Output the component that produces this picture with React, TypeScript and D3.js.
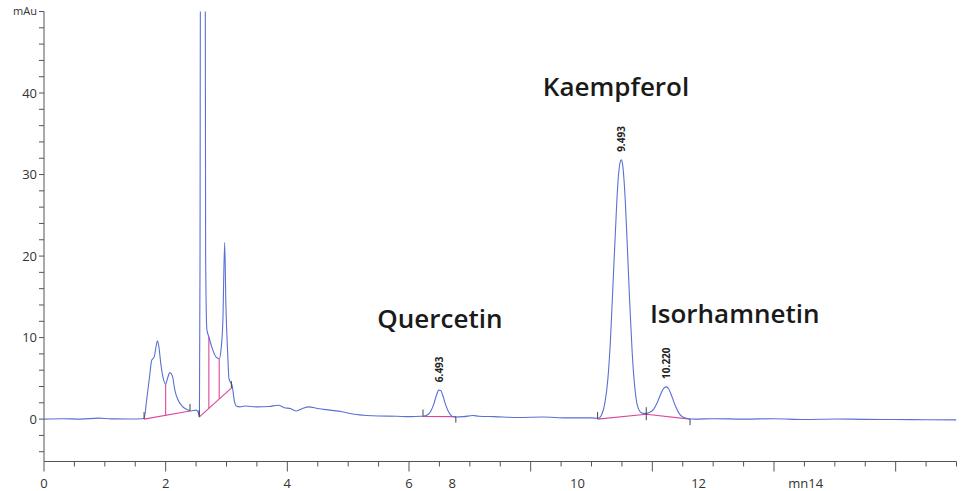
import React from "react";
import * as d3 from "d3";

// Chromatogram trace: retention time (min) and absorbance (mAu)
const traceTime = [
  0, 0.3, 0.6, 0.9, 1.1, 1.4, 1.62,
  1.645, 1.69, 1.74, 1.77, 1.81, 1.84, 1.865, 1.89, 1.92, 1.96, 2.0, 2.03, 2.07, 2.11, 2.15, 2.2, 2.27, 2.34, 2.42, 2.5, 2.53, 2.555,
  2.565, 2.572, 2.61, 2.65, 2.657, 2.677, 2.71, 2.76, 2.83, 2.88, 2.91, 2.94, 2.97, 2.99, 3.02, 3.04, 3.075, 3.09, 3.13, 3.16, 3.22,
  3.3, 3.5, 3.7, 3.85, 3.95, 4.05, 4.15, 4.25, 4.35, 4.5, 4.7, 4.9, 5.1, 5.3, 5.5, 5.8, 6.0, 6.2,
  6.23, 6.3, 6.36, 6.41, 6.45, 6.49, 6.52, 6.56, 6.6, 6.65, 6.7, 6.75,
  6.9, 7.05, 7.15, 7.4, 7.8, 8.2, 8.6, 9.0,
  9.11, 9.17, 9.22, 9.27, 9.31, 9.35, 9.39, 9.43, 9.47, 9.49, 9.51, 9.55, 9.59, 9.63, 9.67, 9.71, 9.75, 9.8, 9.85, 9.9,
  9.95, 10.02, 10.08, 10.14, 10.19, 10.23, 10.27, 10.32, 10.38, 10.44, 10.5, 10.6, 10.7,
  11, 11.5, 12, 12.5, 13, 13.5, 14, 14.5, 15,
];
const traceValue = [
  0, 0.05, 0, 0.12, 0.03, 0.02, 0.05,
  0.1, 2.5, 5.5, 7.2, 7.6, 8.8, 9.6, 8.8, 6.8, 5.0, 4.3, 5.0, 5.7, 5.3, 3.6, 2.4, 1.6, 1.2, 1.0, 1.1, 0.9, 0.4,
  20, 60, 75, 60, 20, 11, 10.1, 8.8, 7.6, 7.4, 8.5, 12, 21.7, 14, 8, 5, 4.4, 4.2, 2.2, 1.6, 1.5,
  1.6, 1.5, 1.55, 1.7, 1.4, 1.3, 1.0, 1.3, 1.5, 1.3, 1.1, 0.9, 0.6, 0.45, 0.38, 0.35, 0.3, 0.35,
  0.35, 0.5, 1.0, 1.9, 2.9, 3.55, 3.5, 2.8, 1.8, 0.9, 0.4, 0.25,
  0.3, 0.45, 0.35, 0.3, 0.2, 0.25, 0.15, 0.15,
  0.1, 0.6, 2, 5, 9.5, 16, 22.5, 28.5, 31.5, 31.8, 31.3, 27.5, 21, 14, 8, 4, 1.8, 0.9, 0.7, 0.7,
  0.8, 1.2, 2.0, 3.1, 3.8, 3.95, 3.7, 2.8, 1.6, 0.7, 0.25, 0.05, 0,
  0.05, 0, 0.05, -0.05, 0.02, -0.03, -0.05, -0.08, -0.1,
];

// Integration baselines (pink)
const baselineSegments: [number, number][][] = [
  [[1.645, 0], [2.4, 1.0]],
  [[2.55, 0.25], [3.08, 3.8]],
  [[6.23, 0.32], [6.77, 0.3]],
  [[9.1, 0.0], [9.9, 0.6], [10.62, 0.0]],
];
// Drop lines: time of split
const dropTimes = [2.0, 2.71, 2.88];

// Peak start/end markers
const markerTime = [1.645, 2.4, 2.55, 3.08, 6.23, 6.77, 9.1, 9.9, 10.62];
const markerValue = [0, 1.0, 0.25, 3.8, 0.32, 0.3, 0.0, 0.6, 0.0];
const markerDir = ["up", "up", "up", "up", "up", "down", "up", "both", "down"];

// Retention time annotations
const rtLabels = ["6.493", "9.493", "10.220"];
const rtTime = [6.5, 9.49, 10.23];
const rtApex = [3.55, 31.8, 3.95];

// Compound names (positioned in data units)
const compoundNames = ["Quercetin", "Kaempferol", "Isorhamnetin"];
const compoundTime = [5.48, 8.2, 9.96];
const compoundValue = [11.2, 39.6, 11.8];

// Axes
const xTickLabels = ["0", "2", "4", "6", "8", "10", "12", "mn14"];
const xTickLabelAt = [0, 2, 4, 6, 6.71, 8.77, 10.76, 12.52];
const yTickLabels = ["0", "10", "20", "30", "40", "mAu"];
const yTickLabelAt = [0, 10, 20, 30, 40, 50];

const W = 965;
const H = 491;
const left = 44;
const right = 956.5;
const top = 11.5;
const bottom = 461.5;

export default function App() {
  const x = d3.scaleLinear().domain([0, 15]).range([left, right]);
  const y = d3.scaleLinear().domain([-5.2, 50]).range([bottom, top]);

  const pts: [number, number][] = traceTime.map((t, i) => [t, traceValue[i]]);
  const line = d3
    .line<[number, number]>()
    .x((d) => x(d[0]))
    .y((d) => y(d[1]))
    .curve(d3.curveMonotoneX);

  const blLine = d3
    .line<[number, number]>()
    .x((d) => x(d[0]))
    .y((d) => y(d[1]));

  const interpTrace = (t: number) => {
    const i = d3.bisector((d: number) => d).left(traceTime, t);
    if (i <= 0) return traceValue[0];
    const t0 = traceTime[i - 1], t1 = traceTime[i];
    const f = (t - t0) / (t1 - t0);
    return traceValue[i - 1] + f * (traceValue[i] - traceValue[i - 1]);
  };
  const baselineAt = (t: number) => {
    for (const seg of baselineSegments) {
      for (let k = 0; k < seg.length - 1; k++) {
        const [a, b] = [seg[k], seg[k + 1]];
        if (t >= a[0] && t <= b[0]) {
          return a[1] + ((t - a[0]) / (b[0] - a[0])) * (b[1] - a[1]);
        }
      }
    }
    return 0;
  };

  const minorTicks = d3.range(0, 15.001, 0.5);
  const yTicks = d3.range(-4, 50.001, 2);
  const font = "'Open Sans', 'Noto Sans', sans-serif";

  return (
    <svg
      width={W}
      height={H}
      style={{ position: "absolute", left: 0, top: 0, background: "#fff" }}
      fontFamily={font}
    >
      <defs>
        <clipPath id="plot">
          <rect x={left} y={top} width={right - left} height={bottom - top} />
        </clipPath>
      </defs>

      {/* axes */}
      <line x1={left} x2={left} y1={top} y2={bottom} stroke="#555" strokeWidth={1} />
      <line x1={left} x2={right} y1={bottom} y2={bottom} stroke="#555" strokeWidth={1} />
      {minorTicks.map((t, i) => {
        const major = Math.abs(t % 2) < 1e-6;
        return (
          <line
            key={"xt" + i}
            x1={x(t)}
            x2={x(t)}
            y1={bottom}
            y2={bottom + (major ? 10 : 5)}
            stroke="#555"
            strokeWidth={1}
          />
        );
      })}
      {xTickLabels.map((s, i) => (
        <text
          key={"xl" + i}
          x={x(xTickLabelAt[i])}
          y={488}
          fontSize={13}
          fill="#333"
          textAnchor="middle"
        >
          {s}
        </text>
      ))}
      {yTicks.map((v, i) => (
        <line
          key={"yt" + i}
          x1={left - 5}
          x2={left}
          y1={y(v)}
          y2={y(v)}
          stroke="#555"
          strokeWidth={1}
        />
      ))}
      {yTickLabels.map((s, i) => (
        <text
          key={"yl" + i}
          x={left - 7}
          y={y(yTickLabelAt[i])}
          dy="0.35em"
          fontSize={s === "mAu" ? 11 : 13}
          fill="#333"
          textAnchor="end"
        >
          {s}
        </text>
      ))}

      <g clipPath="url(#plot)">
        {/* baselines */}
        {baselineSegments.map((seg, i) => (
          <path key={"bl" + i} d={blLine(seg) || ""} fill="none" stroke="#d9479a" strokeWidth={1.1} />
        ))}
        {dropTimes.map((t, i) => (
          <line
            key={"dr" + i}
            x1={x(t)}
            x2={x(t)}
            y1={y(interpTrace(t))}
            y2={y(baselineAt(t))}
            stroke="#d9479a"
            strokeWidth={1.1}
          />
        ))}
        {/* trace */}
        <path d={line(pts) || ""} fill="none" stroke="#5a70d4" strokeWidth={1.1} />
        {/* peak markers */}
        {markerTime.map((t, i) => {
          const py = y(markerValue[i]);
          const dir = markerDir[i];
          const y1 = dir === "down" ? py : py - 7;
          const y2 = dir === "up" ? py : py + 6;
          return (
            <line key={"mk" + i} x1={x(t)} x2={x(t)} y1={y1} y2={y2} stroke="#444" strokeWidth={1} />
          );
        })}
      </g>

      {/* retention times */}
      {rtLabels.map((s, i) => {
        const px = x(rtTime[i]);
        const py = y(rtApex[i]) - 8;
        return (
          <text
            key={"rt" + i}
            transform={`translate(${px},${py}) rotate(-90)`}
            dy="0.35em"
            fontSize={10}
            fontWeight={700}
            fill="#222"
          >
            {s}
          </text>
        );
      })}

      {/* compound names */}
      {compoundNames.map((s, i) => (
        <text
          key={"cn" + i}
          x={x(compoundTime[i])}
          y={y(compoundValue[i])}
          fontSize={26}
          fontWeight={600}
          fill="#1a1a1a"
        >
          {s}
        </text>
      ))}
    </svg>
  );
}
